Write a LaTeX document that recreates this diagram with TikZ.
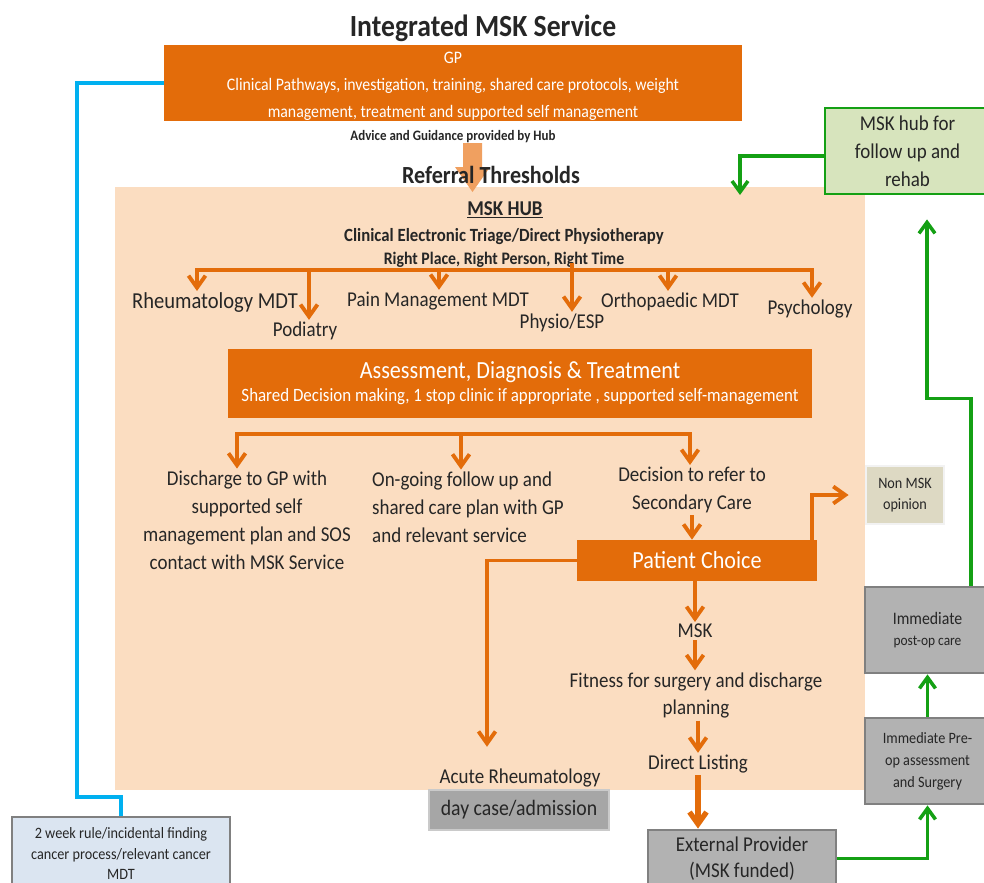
\documentclass[tikz,border=0pt]{standalone}
\usepackage{fontspec}
\setmainfont{Carlito}[FakeStretch=0.9]
\usetikzlibrary{arrows.meta}
\definecolor{mskorange}{RGB}{227,108,10}
\definecolor{mskpeach}{RGB}{251,221,193}
\definecolor{mskblock}{RGB}{240,160,96}
\definecolor{mskgreen}{RGB}{20,160,20}
\definecolor{mskleaf}{RGB}{215,228,189}
\definecolor{mskgrey}{RGB}{178,178,178}
\definecolor{mskdark}{RGB}{166,166,166}
\definecolor{mskedge}{RGB}{128,128,128}
\definecolor{msksand}{RGB}{221,217,195}
\definecolor{mskmist}{RGB}{242,242,242}
\definecolor{mskblue}{RGB}{0,176,240}
\definecolor{mskice}{RGB}{219,229,241}
\definecolor{mskink}{RGB}{38,38,38}
\newcommand{\fs}[2]{\fontsize{#1}{#2}\selectfont}

\begin{document}
\begin{tikzpicture}[x=0.2mm,y=-0.2mm,
  every node/.style={text=mskink},
  txt/.style={inner sep=1pt,align=center,font=\fs{12}{15.9}},
  obox/.style={fill=mskorange,text=white,align=center,inner sep=0pt},
  gbox/.style={draw=mskedge,line width=1.6pt,fill=mskgrey,align=center,inner sep=0pt},
  flow/.style={-{Straight Barb[length=2.4mm,width=3.4mm]},line width=2.2pt,mskorange},
  gflow/.style={-{Straight Barb[length=2.2mm,width=3.2mm]},line width=2pt,mskgreen}
]
  \useasboundingbox (0,0) rectangle (984,883);
  % hub panel and referral arrow
  \fill[mskpeach] (115,187) rectangle (865,790);
  \fill[mskblock] (463,143) -- (482,143) -- (482,167) -- (490,167) -- (472.5,192)
    -- (455,167) -- (463,167) -- cycle;

  \node[font=\bfseries\fs{17.5}{20}] (title) at (483,28) {Integrated MSK Service};
  \node[obox,minimum width=11.56cm,minimum height=1.52cm,font=\fs{10}{15.3}] (gp) at (453,83)
    {\rule{0pt}{10pt}GP\\Clinical Pathways, investigation, training, shared care protocols, weight\\management, treatment and supported self management};
  \node[font=\bfseries\fs{8.2}{9}] (advice) at (453,137) {Advice and Guidance provided by Hub};
  \node[font=\bfseries\fs{14}{16}] (thresh) at (491,175) {Referral Thresholds};

  \node[font=\bfseries\fs{12}{14}] (hub) at (505,210) {\underline{MSK HUB}};
  \node[font=\bfseries\fs{10.6}{12}] (triage) at (504,237) {Clinical Electronic Triage/Direct Physiotherapy};
  \node[font=\bfseries\fs{10}{11}] (right) at (504,260) {Right Place, Right Person, Right Time};

  % specialties
  \node[txt,font=\fs{13}{15.9}] (rheum) at (215,303) {Rheumatology MDT};
  \node[txt] (podiatry) at (305,331) {Podiatry};
  \node[txt] (pain) at (438,301) {Pain Management MDT};
  \node[txt] (physio) at (562,323) {Physio/ESP};
  \node[txt] (ortho) at (670,302) {Orthopaedic MDT};
  \node[txt] (psych) at (810,309) {Psychology};
  \coordinate (fork) at (572,270);
  \draw[flow] (fork) -| ([xshift=-3.6mm]rheum.north);
  \draw[flow] (fork) -| ([xshift=0.8mm]podiatry.north);
  \draw[flow] (fork) -| ([xshift=0.2mm]pain.north);
  \draw[flow] (fork) ++(0,-7) -- ([xshift=2mm]physio.north);
  \draw[flow] (fork) -| ([xshift=-0.4mm]ortho.north);
  \draw[flow] (fork) -| ([xshift=0.4mm]psych.north);

  \node[obox,minimum width=11.68cm,minimum height=1.38cm] (assess) at (520,383.5)
    {{\fs{14}{16}Assessment, Diagnosis \& Treatment}\\[1pt]{\fs{10.7}{12}Shared Decision making, 1 stop clinic if appropriate , supported self-management}};

  % outcomes
  \node[txt] (discharge) at (247,520) {Discharge to GP with\\supported self\\management plan and SOS\\contact with MSK Service};
  \node[txt,align=left] (ongoing) at (468,507) {On-going follow up and\\shared care plan with GP\\and relevant service};
  \node[txt] (decision) at (692,490) {Decision to refer to\\Secondary Care};
  \coordinate (split) at (461,434);
  \draw[flow] (split) -| ([xshift=-2mm]discharge.north);
  \draw[flow] (split) -- ([xshift=-1.4mm]ongoing.north);
  \draw[flow] (split) -| ([xshift=-0.4mm]decision.north);

  \node[obox,minimum width=4.8cm,minimum height=0.82cm,font=\fs{14}{16}] (pc) at (697,560.5) {Patient Choice};
  \draw[flow] (decision.south) -- (decision.south |- pc.north);

  \node[txt] (msk) at (695,631) {MSK};
  \node[txt] (fitness) at (696,695.5) {Fitness for surgery and discharge\\planning};
  \node[txt] (listing) at (698,764) {Direct Listing};
  \draw[flow] (pc.south -| msk) -- (msk.north);
  \draw[flow] (msk.south) -- (msk.south |- fitness.north);
  \draw[flow] (fitness.south -| listing) -- (listing.north);

  \node[gbox,minimum width=3.76cm,minimum height=1.14cm,font=\fs{12}{14.5}] (ext) at (742,858.5) {External Provider\\(MSK funded)};
  \draw[flow,line width=3pt] (listing.south) -- (listing.south |- ext.north);

  \node[txt] (acute) at (520,778) {Acute Rheumatology};
  \node[gbox,fill=mskdark,draw=mskdark!60!white,line width=1pt,minimum width=3.6cm,minimum height=0.8cm,font=\fs{12.5}{15}] (daycase) at (519,810) {day case/admission};
  \draw[flow] (pc.west) -| ([xshift=-6.6mm,yshift=4mm]acute.north);

  \node[fill=msksand,draw=mskmist,line width=1.6pt,minimum width=1.56cm,minimum height=1.16cm,align=center,inner sep=0pt,font=\fs{9}{11.9}] (nonmsk) at (905,495) {Non MSK\\opinion};
  \draw[flow] ([xshift=-1mm]pc.north east) |- ([xshift=-3.2mm]nonmsk.west);

  % surgical pathway
  \node[draw=mskgreen,fill=mskleaf,line width=1.6pt,minimum width=3.3cm,minimum height=1.72cm,align=center,inner sep=0pt,font=\fs{12}{15.9}] (rehab) at (907.5,151) {MSK hub for\\follow up and\\rehab};
  \node[gbox,minimum width=2.5cm,minimum height=1.72cm] (postop) at (927.5,630) {{\fs{10}{12}Immediate}\\{\fs{8.5}{10}post-op care}};
  \node[gbox,minimum width=2.5cm,minimum height=1.72cm,font=\fs{9}{12.5}] (preop) at (927.5,761) {Immediate Pre-\\op assessment\\and Surgery};
  \coordinate (hubreturn) at (740,195);
  \draw[gflow] (ext.east) -| (preop.south);
  \draw[gflow] (preop.north) -- (postop.south);
  \draw[gflow] ([xshift=8.7mm]postop.north) -- ++(0,-187) -| ([xshift=3.9mm,yshift=-4.8mm]rehab.south);
  \draw[gflow] ([yshift=-1mm]rehab.west) -| (hubreturn);

  % cancer route
  \node[draw=mskedge,fill=mskice,line width=1.6pt,minimum width=4.36cm,minimum height=1.46cm,align=center,inner sep=0pt,font=\fs{9}{11.6}] (cancer) at (121,853.5) {2 week rule/incidental finding\\cancer process/relevant cancer\\MDT};
  \draw[mskblue,line width=2.4pt] (gp.west) -- ++(-87,0) -- ++(0,714) -| (cancer.north);
\end{tikzpicture}
\end{document}
